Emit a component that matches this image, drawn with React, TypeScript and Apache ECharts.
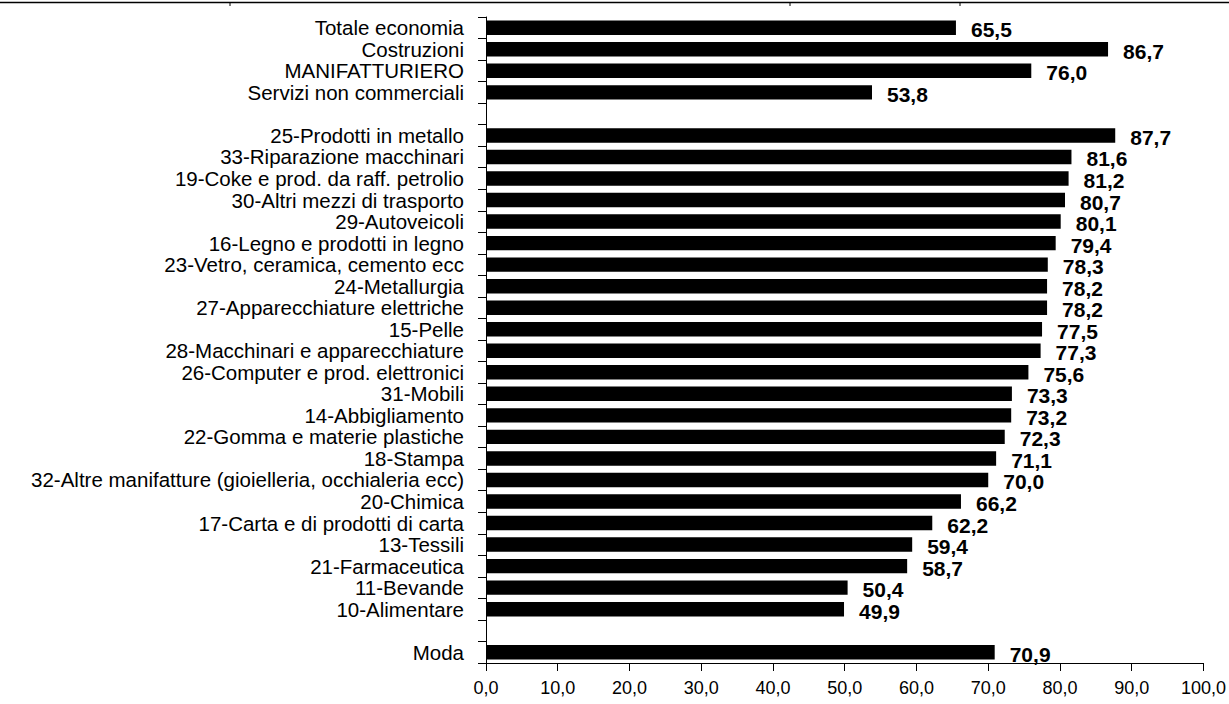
import React, { useEffect, useRef } from "react";
import * as echarts from "echarts";

// Sector names, top to bottom; blank entries are spacer rows between groups
const categories: string[] = [
  "Totale economia",
  "Costruzioni",
  "MANIFATTURIERO",
  "Servizi non commerciali",
  " ",
  "25-Prodotti in metallo",
  "33-Riparazione macchinari",
  "19-Coke e prod. da raff. petrolio",
  "30-Altri mezzi di trasporto",
  "29-Autoveicoli",
  "16-Legno e prodotti in legno",
  "23-Vetro, ceramica, cemento ecc",
  "24-Metallurgia",
  "27-Apparecchiature elettriche",
  "15-Pelle",
  "28-Macchinari e apparecchiature",
  "26-Computer e prod. elettronici",
  "31-Mobili",
  "14-Abbigliamento",
  "22-Gomma e materie plastiche",
  "18-Stampa",
  "32-Altre manifatture (gioielleria, occhialeria ecc)",
  "20-Chimica",
  "17-Carta e di prodotti di carta",
  "13-Tessili",
  "21-Farmaceutica",
  "11-Bevande",
  "10-Alimentare",
  "  ",
  "Moda",
];

const values: (number | null)[] = [
  65.5, 86.7, 76.0, 53.8,
  null,
  87.7, 81.6, 81.2, 80.7, 80.1, 79.4, 78.3, 78.2, 78.2, 77.5, 77.3, 75.6,
  73.3, 73.2, 72.3, 71.1, 70.0, 66.2, 62.2, 59.4, 58.7, 50.4, 49.9,
  null,
  70.9,
];

const xMin = 0;
const xMax = 100;
const xStep = 10;

const fmt = (v: number) => v.toFixed(1).replace(".", ",");

export default function App() {
  const ref = useRef<HTMLDivElement>(null);

  useEffect(() => {
    if (!ref.current) return;
    const chart = echarts.init(ref.current, null, { renderer: "svg" });
    chart.setOption({
      animation: false,
      backgroundColor: "#ffffff",
      grid: { left: 486, right: 24, top: 17, bottom: 41, containLabel: false },
      xAxis: {
        type: "value",
        min: xMin,
        max: xMax,
        interval: xStep,
        axisLine: { show: true, lineStyle: { color: "#000", width: 1 } },
        axisTick: { show: true, length: 8, lineStyle: { color: "#000" } },
        splitLine: { show: false },
        axisLabel: {
          formatter: (v: number) => fmt(v),
          color: "#000",
          fontFamily: "Liberation Sans, Arial, sans-serif",
          fontSize: 18,
          margin: 16,
        },
      },
      yAxis: {
        type: "category",
        inverse: true,
        data: categories,
        axisLine: { show: true, lineStyle: { color: "#000", width: 1 } },
        axisTick: { show: true, length: 8, inside: false, lineStyle: { color: "#000" } },
        axisLabel: {
          color: "#000",
          fontFamily: "Liberation Sans, Arial, sans-serif",
          fontSize: 20.5,
          margin: 22,
          interval: 0,
        },
      },
      series: [
        {
          type: "bar",
          data: values,
          barCategoryGap: "33%",
          itemStyle: { color: "#000" },
          label: {
            show: true,
            position: "right",
            distance: 15,
            offset: [0, 2],
            color: "#000",
            fontFamily: "Liberation Sans, Arial, sans-serif",
            fontWeight: "bold",
            fontSize: 21,
            formatter: (p: any) => fmt(p.value),
          },
        },
      ],
      graphic: [
        {
          type: "line",
          shape: { x1: 0, y1: 2.5, x2: 1229, y2: 2.5 },
          style: { stroke: "#000", lineWidth: 1.5 },
        },
        {
          type: "line",
          shape: { x1: 230, y1: 2, x2: 230, y2: 6 },
          style: { stroke: "#000", lineWidth: 1 },
        },
        {
          type: "line",
          shape: { x1: 790, y1: 2, x2: 790, y2: 6 },
          style: { stroke: "#000", lineWidth: 1 },
        },
        {
          type: "line",
          shape: { x1: 960, y1: 2, x2: 960, y2: 6 },
          style: { stroke: "#000", lineWidth: 1 },
        },
      ],
    });
    return () => chart.dispose();
  }, []);

  return (
    <div
      ref={ref}
      style={{ position: "absolute", left: 0, top: 0, width: 1229, height: 704 }}
    />
  );
}
